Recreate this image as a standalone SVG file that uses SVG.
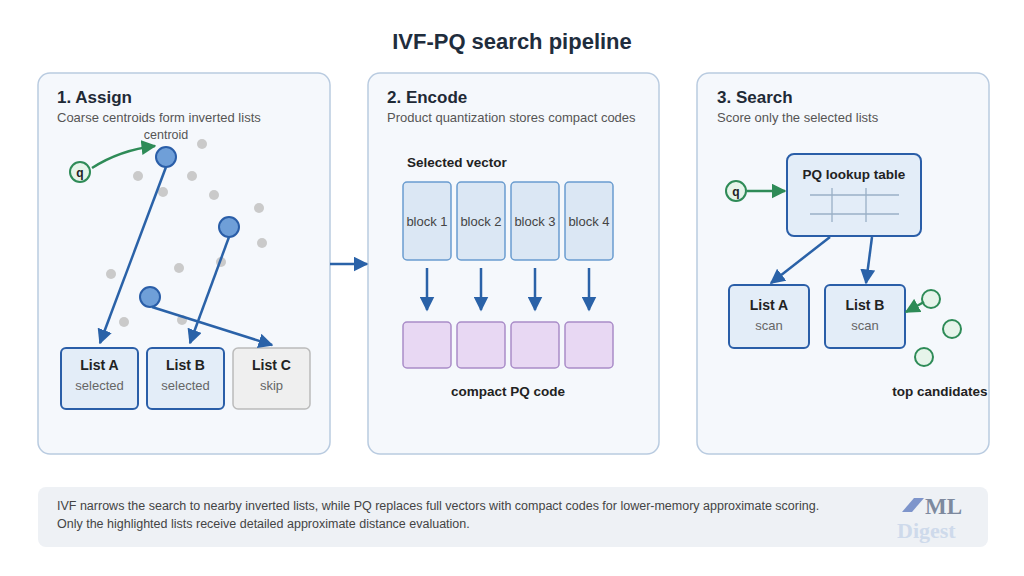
<svg xmlns="http://www.w3.org/2000/svg" width="1024" height="576" viewBox="0 0 1024 576">
<style>
text{font-family:"Liberation Sans",Arial,sans-serif}
.panel{fill:#f5f8fc;stroke:#b9cbe0;stroke-width:1.5}
.h{font-size:17px;font-weight:bold;fill:#1f2a36}
.sub{font-size:13px;fill:#555}
.node{fill:#e3edf8;stroke:#2a5ea8;stroke-width:2}
.nt{font-size:14px;font-weight:bold;fill:#222;text-anchor:middle}
.ns{font-size:13px;fill:#666;text-anchor:middle}
.dot{fill:#cacaca}
.cen{fill:#6f9fd8;stroke:#2a5ea8;stroke-width:2}
.blue{stroke:#2a62a8;stroke-width:2.5;fill:none;marker-end:url(#ab)}
.green{stroke:#2e8b57;stroke-width:2.5;fill:none;marker-end:url(#ag)}
.qc{fill:#e6f4ea;stroke:#2e8b57;stroke-width:2}
.blk{fill:#dbe7f4;stroke:#6a9ccf;stroke-width:1.5}
.pq{fill:#e8d8f3;stroke:#a98cc8;stroke-width:1.5}
.b{font-size:13.5px;font-weight:bold;fill:#222}
.serif{font-family:"Liberation Serif","Times New Roman",serif;font-weight:bold}
</style>
<defs>
<marker id="ab" viewBox="0 0 10 10" refX="9" refY="5" markerWidth="6" markerHeight="6" orient="auto"><path d="M0,0L10,5L0,10z" fill="#2a62a8"/></marker>
<marker id="ag" viewBox="0 0 10 10" refX="9" refY="5" markerWidth="6" markerHeight="6" orient="auto"><path d="M0,0L10,5L0,10z" fill="#2e8b57"/></marker>
</defs>
<rect width="1024" height="576" fill="#ffffff"/>
<text x="512" y="49" text-anchor="middle" font-size="22" font-weight="bold" fill="#1f2d3d">IVF-PQ search pipeline</text>
<g id="panel1">
<rect class="panel" x="38" y="73" width="292" height="381" rx="12"/>
<text class="h" x="57" y="103">1. Assign</text>
<text class="sub" x="57" y="122">Coarse centroids form inverted lists</text>
<text x="166" y="139" font-size="12.5" fill="#555" text-anchor="middle">centroid</text>
<g>
<circle class="dot" cx="202" cy="144" r="5"/><circle class="dot" cx="138" cy="176" r="5"/><circle class="dot" cx="192" cy="176" r="5"/><circle class="dot" cx="163" cy="192" r="5"/><circle class="dot" cx="214" cy="195" r="5"/><circle class="dot" cx="259" cy="208" r="5"/><circle class="dot" cx="262" cy="243" r="5"/><circle class="dot" cx="221" cy="262" r="5"/><circle class="dot" cx="111" cy="274" r="5"/><circle class="dot" cx="179" cy="268" r="5"/><circle class="dot" cx="124" cy="322" r="5"/><circle class="dot" cx="182" cy="320" r="5"/>
</g>
<g id="q1"><circle class="qc" cx="80" cy="172" r="10"/><text x="80" y="176.5" font-size="12" font-weight="bold" text-anchor="middle" fill="#222">q</text></g>
<circle class="cen" cx="166" cy="157" r="10"/>
<circle class="cen" cx="229" cy="227" r="10"/>
<circle class="cen" cx="150" cy="297" r="10"/>
<g id="listA1"><rect class="node" x="61" y="348" width="77" height="61" rx="5"/><text class="nt" x="99.5" y="370">List A</text><text class="ns" x="99.5" y="390">selected</text></g>
<g id="listB1"><rect class="node" x="147" y="348" width="77" height="61" rx="5"/><text class="nt" x="185.5" y="370">List B</text><text class="ns" x="185.5" y="390">selected</text></g>
<g id="listC1"><rect x="233" y="348" width="77" height="61" rx="5" fill="#efefef" stroke="#bbb" stroke-width="1.5"/><text class="nt" x="271.5" y="370">List C</text><text class="ns" x="271.5" y="390">skip</text></g>
</g>
<g id="panel2">
<rect class="panel" x="368" y="73" width="291" height="381" rx="12"/>
<text class="h" x="387" y="103">2. Encode</text>
<text class="sub" x="387" y="122">Product quantization stores compact codes</text>
<text class="b" x="407" y="167">Selected vector</text>
<g id="blocks">
<rect class="blk" x="403" y="182" width="48" height="78" rx="4"/><text x="427" y="226" font-size="13" fill="#444" text-anchor="middle">block 1</text>
<rect class="blk" x="457" y="182" width="48" height="78" rx="4"/><text x="481" y="226" font-size="13" fill="#444" text-anchor="middle">block 2</text>
<rect class="blk" x="511" y="182" width="48" height="78" rx="4"/><text x="535" y="226" font-size="13" fill="#444" text-anchor="middle">block 3</text>
<rect class="blk" x="565" y="182" width="48" height="78" rx="4"/><text x="589" y="226" font-size="13" fill="#444" text-anchor="middle">block 4</text>
</g>
<g id="codes">
<rect class="pq" x="403" y="322" width="48" height="46" rx="4"/><rect class="pq" x="457" y="322" width="48" height="46" rx="4"/><rect class="pq" x="511" y="322" width="48" height="46" rx="4"/><rect class="pq" x="565" y="322" width="48" height="46" rx="4"/>
</g>
<text class="b" x="508" y="396" text-anchor="middle">compact PQ code</text>
</g>
<g id="panel3">
<rect class="panel" x="697" y="73" width="292" height="381" rx="12"/>
<text class="h" x="717" y="103">3. Search</text>
<text class="sub" x="717" y="122">Score only the selected lists</text>
<g id="lut"><rect class="node" x="787" y="154" width="134" height="82" rx="7"/><text class="b" x="854" y="179" text-anchor="middle">PQ lookup table</text>
<path d="M810,195H899M810,214H899M832,188V222M866,188V222" stroke="#9ab0c6" stroke-width="1.3"/></g>
<g id="q3"><circle class="qc" cx="736" cy="191" r="10"/><text x="736" y="195.5" font-size="12" font-weight="bold" text-anchor="middle" fill="#222">q</text></g>
<g id="listA3"><rect class="node" x="729" y="285" width="80" height="63" rx="5"/><text class="nt" x="769" y="310">List A</text><text class="ns" x="769" y="330">scan</text></g>
<g id="listB3"><rect class="node" x="825" y="285" width="80" height="63" rx="5"/><text class="nt" x="865" y="310">List B</text><text class="ns" x="865" y="330">scan</text></g>
<g id="cands"><circle class="qc" cx="931" cy="299" r="9"/><circle class="qc" cx="952" cy="329" r="9"/><circle class="qc" cx="924" cy="357" r="9"/></g>
<text class="b" x="940" y="396" text-anchor="middle">top candidates</text>
</g>
<g id="connectors">
<path class="green" d="M92,168Q120,150 155,146"/>
<path class="blue" d="M166,167L100,343"/>
<path class="blue" d="M229,237L190,343"/>
<path class="blue" d="M152,307L272,345"/>
<path class="blue" d="M330,264H367"/>
<path class="blue" d="M427,268V310"/><path class="blue" d="M481,268V310"/><path class="blue" d="M535,268V310"/><path class="blue" d="M589,268V310"/>
<path class="green" d="M747,191H785"/>
<path class="blue" d="M830,237L771,283"/>
<path class="blue" d="M872,237L866,283"/>
<path class="green" d="M924,302L906,312"/>
</g>
<g id="footer">
<rect x="38" y="487" width="950" height="60" rx="8" fill="#eef1f5"/>
<text x="57" y="510" font-size="12.5" fill="#444">IVF narrows the search to nearby inverted lists, while PQ replaces full vectors with compact codes for lower-memory approximate scoring.</text>
<text x="57" y="528" font-size="12.5" fill="#444">Only the highlighted lists receive detailed approximate distance evaluation.</text>
<g id="logo" opacity="0.85">
<path d="M902,512l12,-14h10l-12,14z" fill="#6b86c4"/>
<text class="serif" x="925" y="514" font-size="23" fill="#6a7890">ML</text>
<text class="serif" x="897" y="538" font-size="22" fill="#c9d6ea">Digest</text>
</g>
</g>
</svg>
